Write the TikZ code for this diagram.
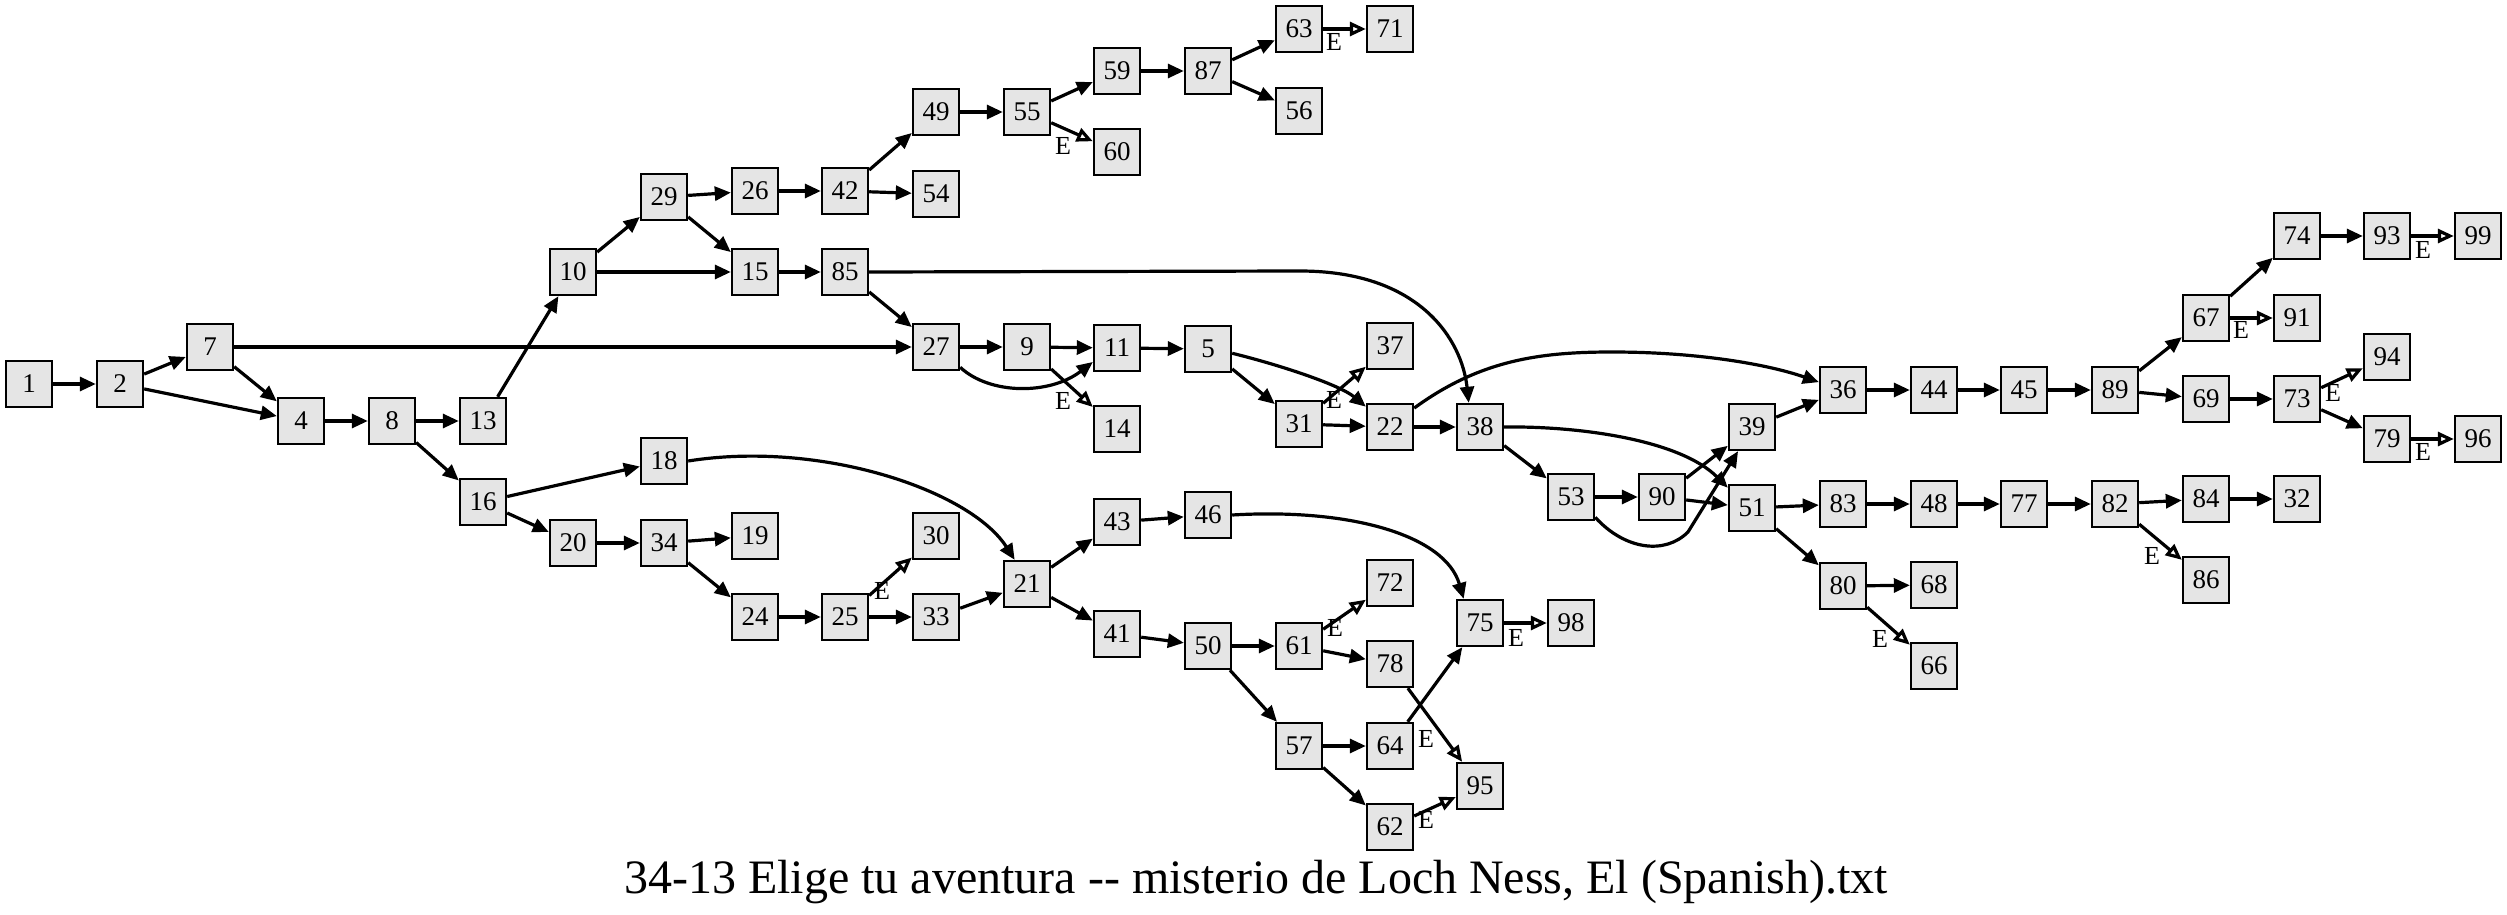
\documentclass[tikz,border=0pt]{standalone}
\usepackage{fontspec}
\setmainfont{Liberation Serif}
\usetikzlibrary{arrows.meta, calc}
\definecolor{pagegray}{gray}{0.9}
\newcommand{\boxsize}{23pt}

\begin{document}
\begin{tikzpicture}[x=0.5pt,y=-0.5pt]
            \useasboundingbox (0,0) rectangle (2507,915);
            \tikzstyle{choice}=[line width=1.6pt,-{Triangle[length=8pt,width=7pt]}]
            \tikzstyle{ending}=[line width=1.6pt,-{Triangle[open,length=8pt,width=7pt]}]
            \tikzstyle{elabel}=[inner sep=0pt,font=\fontsize{13}{15}\selectfont]

            \begin{scope}
            \tikzstyle{every node}=[draw,fill=pagegray,line width=1.2pt,minimum size=\boxsize,inner sep=0pt,font=\fontsize{13.5}{16}\selectfont]

            \node (p_1) at (29,384) {1};
            \node (p_2) at (120,384) {2};
            \node (p_7) at (210,347) {7};
            \node (p_4) at (301,421) {4};
            \node (p_8) at (392,421) {8};
            \node (p_13) at (483,421) {13};
            \node (p_16) at (483,502) {16};
            \node (p_10) at (573,272) {10};
            \node (p_20) at (573,543) {20};

            \node (p_29) at (664,197) {29};
            \node (p_18) at (664,461) {18};
            \node (p_34) at (664,543) {34};
            \node (p_26) at (755,191) {26};
            \node (p_15) at (755,272) {15};
            \node (p_19) at (755,536) {19};
            \node (p_24) at (755,617) {24};
            \node (p_42) at (845,191) {42};
            \node (p_85) at (845,272) {85};
            \node (p_25) at (845,617) {25};

            \node (p_49) at (936,112) {49};
            \node (p_54) at (936,194) {54};
            \node (p_27) at (936,347) {27};
            \node (p_30) at (936,536) {30};
            \node (p_33) at (936,617) {33};
            \node (p_55) at (1027,112) {55};
            \node (p_9) at (1027,347) {9};
            \node (p_21) at (1027,584) {21};

            \node (p_59) at (1117,71) {59};
            \node (p_60) at (1117,152) {60};
            \node (p_11) at (1117,348) {11};
            \node (p_14) at (1117,429) {14};
            \node (p_43) at (1117,522) {43};
            \node (p_41) at (1117,634) {41};
            \node (p_87) at (1208,71) {87};
            \node (p_5) at (1208,349) {5};
            \node (p_46) at (1208,515) {46};
            \node (p_50) at (1208,646) {50};

            \node (p_63) at (1299,29) {63};
            \node (p_56) at (1299,111) {56};
            \node (p_31) at (1299,424) {31};
            \node (p_61) at (1299,646) {61};
            \node (p_57) at (1299,746) {57};
            \node (p_71) at (1390,29) {71};
            \node (p_37) at (1390,346) {37};
            \node (p_22) at (1390,427) {22};
            \node (p_72) at (1390,583) {72};
            \node (p_78) at (1390,664) {78};
            \node (p_64) at (1390,746) {64};
            \node (p_62) at (1390,827) {62};

            \node (p_38) at (1480,427) {38};
            \node (p_75) at (1480,623) {75};
            \node (p_95) at (1480,786) {95};
            \node (p_53) at (1571,497) {53};
            \node (p_98) at (1571,623) {98};
            \node (p_90) at (1662,497) {90};
            \node (p_39) at (1752,427) {39};
            \node (p_51) at (1752,508) {51};

            \node (p_36) at (1843,390) {36};
            \node (p_83) at (1843,504) {83};
            \node (p_80) at (1843,586) {80};
            \node (p_44) at (1934,390) {44};
            \node (p_48) at (1934,504) {48};
            \node (p_68) at (1934,585) {68};
            \node (p_66) at (1934,666) {66};
            \node (p_45) at (2024,390) {45};
            \node (p_77) at (2024,504) {77};
            \node (p_89) at (2115,390) {89};
            \node (p_82) at (2115,504) {82};

            \node (p_67) at (2206,318) {67};
            \node (p_69) at (2206,399) {69};
            \node (p_84) at (2206,499) {84};
            \node (p_86) at (2206,580) {86};
            \node (p_74) at (2297,236) {74};
            \node (p_91) at (2297,318) {91};
            \node (p_73) at (2297,399) {73};
            \node (p_32) at (2297,499) {32};
            \node (p_93) at (2387,236) {93};
            \node (p_94) at (2387,357) {94};
            \node (p_79) at (2387,439) {79};
            \node (p_99) at (2478,236) {99};
            \node (p_96) at (2478,439) {96};

            \draw [choice] (p_1) -- (p_2);
            \draw [choice] (p_2) -- (p_7);
            \draw [choice] (p_2) -- (p_4);
            \draw [choice] (p_7) -- (p_4);
            \draw [choice] (p_7) -- (p_27);
            \draw [choice] (p_4) -- (p_8);
            \draw [choice] (p_8) -- (p_13);
            \draw [choice] (p_8) -- (p_16);
            \draw [choice] (p_13) -- (p_10);
            \draw [choice] (p_10) -- (p_29);
            \draw [choice] (p_10) -- (p_15);
            \draw [choice] (p_16) -- (p_18);
            \draw [choice] (p_16) -- (p_20);

            \draw [choice] (p_29) -- (p_26);
            \draw [choice] (p_29) -- (p_15);
            \draw [choice] (p_26) -- (p_42);
            \draw [choice] (p_42) -- (p_49);
            \draw [choice] (p_42) -- (p_54);
            \draw [choice] (p_49) -- (p_55);
            \draw [choice] (p_55) -- (p_59);
            \draw [ending] (p_55) -- (p_60);
            \draw [choice] (p_59) -- (p_87);
            \draw [choice] (p_87) -- (p_63);
            \draw [choice] (p_87) -- (p_56);
            \draw [ending] (p_63) -- (p_71);

            \draw [choice] (p_15) -- (p_85);
            \draw [choice] (p_85) -- (p_27);
            \draw [choice] (p_85.east) -- (1300,271) .. controls (1420,271) and (1462,340) .. (p_38.115);
            \draw [choice] (p_27) -- (p_9);
            \draw [choice] (p_27.-40) .. controls (990,395) and (1050,395) .. (p_11.-150);
            \draw [choice] (p_9) -- (p_11);
            \draw [ending] (p_9) -- (p_14);
            \draw [choice] (p_11) -- (p_5);
            \draw [choice] (p_5) -- (p_31);
            \draw [choice] (p_5.-10) .. controls (1280,365) and (1340,385) .. (p_22.140);
            \draw [ending] (p_31) -- (p_37);
            \draw [choice] (p_31) -- (p_22);
            \draw [choice] (p_22) -- (p_38);
            \draw [choice] (p_22.38) .. controls (1480,360) and (1540,352) .. (1612,352) .. controls (1700,352) and (1770,365) .. (p_36.162);

            \draw [choice] (p_38) -- (p_53);
            \draw [choice] (p_38.east) .. controls (1580,426) and (1680,440) .. (p_51.140);
            \draw [choice] (p_53) -- (p_90);
            \draw [choice] (p_53.-40) .. controls (1625,550) and (1665,555) .. (1688,532) -- (p_39.-120);
            \draw [choice] (p_90) -- (p_39);
            \draw [choice] (p_90) -- (p_51);
            \draw [choice] (p_39) -- (p_36);
            \draw [choice] (p_36) -- (p_44);
            \draw [choice] (p_44) -- (p_45);
            \draw [choice] (p_45) -- (p_89);
            \draw [choice] (p_89) -- (p_67);
            \draw [choice] (p_89) -- (p_69);
            \draw [choice] (p_67) -- (p_74);
            \draw [ending] (p_67) -- (p_91);
            \draw [choice] (p_74) -- (p_93);
            \draw [ending] (p_93) -- (p_99);
            \draw [choice] (p_69) -- (p_73);
            \draw [ending] (p_73) -- (p_94);
            \draw [choice] (p_73) -- (p_79);
            \draw [ending] (p_79) -- (p_96);

            \draw [choice] (p_51) -- (p_83);
            \draw [choice] (p_51) -- (p_80);
            \draw [choice] (p_83) -- (p_48);
            \draw [choice] (p_48) -- (p_77);
            \draw [choice] (p_77) -- (p_82);
            \draw [choice] (p_82) -- (p_84);
            \draw [ending] (p_82) -- (p_86);
            \draw [choice] (p_84) -- (p_32);
            \draw [choice] (p_80) -- (p_68);
            \draw [ending] (p_80) -- (p_66);

            \draw [choice] (p_18.east) .. controls (820,440) and (970,490) .. (p_21.117);
            \draw [choice] (p_20) -- (p_34);
            \draw [choice] (p_34) -- (p_19);
            \draw [choice] (p_34) -- (p_24);
            \draw [choice] (p_24) -- (p_25);
            \draw [ending] (p_25) -- (p_30);
            \draw [choice] (p_25) -- (p_33);
            \draw [choice] (p_33) -- (p_21);
            \draw [choice] (p_21) -- (p_43);
            \draw [choice] (p_21) -- (p_41);
            \draw [choice] (p_43) -- (p_46);
            \draw [choice] (p_46.east) .. controls (1350,508) and (1445,535) .. (p_75.124);
            \draw [choice] (p_41) -- (p_50);
            \draw [choice] (p_50) -- (p_61);
            \draw [choice] (p_50) -- (p_57);
            \draw [ending] (p_61) -- (p_72);
            \draw [choice] (p_61) -- (p_78);
            \draw [ending] (p_78) -- (p_95);
            \draw [choice] (p_57) -- (p_64);
            \draw [choice] (p_57) -- (p_62);
            \draw [choice] (p_64) -- (p_75);
            \draw [ending] (p_62) -- (p_95);
            \draw [ending] (p_75) -- (p_98);
            \end{scope}

            % ending labels
            \node[elabel] (e_55) at (1063,146) {E};
            \node[elabel] (e_63) at (1334,42) {E};
            \node[elabel] (e_9) at (1063,401) {E};
            \node[elabel] (e_31) at (1334,400) {E};
            \node[elabel] (e_25) at (882,591) {E};
            \node[elabel] (e_61) at (1335,628) {E};
            \node[elabel] (e_78) at (1426,739) {E};
            \node[elabel] (e_62) at (1426,820) {E};
            \node[elabel] (e_75) at (1516,638) {E};
            \node[elabel] (e_67) at (2241,330) {E};
            \node[elabel] (e_93) at (2423,250) {E};
            \node[elabel] (e_73) at (2333,393) {E};
            \node[elabel] (e_79) at (2423,452) {E};
            \node[elabel] (e_82) at (2152,556) {E};
            \node[elabel] (e_80) at (1880,639) {E};

            \node[anchor=base,font=\fontsize{24}{28}\selectfont] (title) at (1256,893) {34-13 Elige tu aventura -\kern0pt- misterio de Loch Ness, El (Spanish).txt};
\end{tikzpicture}
\end{document}
